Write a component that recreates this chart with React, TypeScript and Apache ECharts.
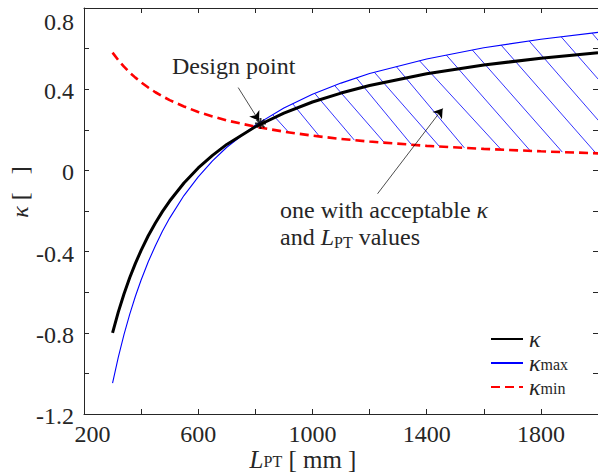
import React, { useEffect, useRef } from 'react';
import * as echarts from 'echarts';

// ---- data ----
const L = [300, 320, 340, 360, 380, 400, 425, 450, 475, 500, 550, 600, 650, 700, 800, 900, 1000, 1100, 1200, 1400, 1600, 1800, 2000];
const kappa = [-0.800, -0.698, -0.609, -0.529, -0.458, -0.394, -0.322, -0.259, -0.202, -0.151, -0.062, 0.012, 0.074, 0.128, 0.215, 0.282, 0.337, 0.381, 0.418, 0.476, 0.519, 0.553, 0.580];
const kappaMax = [-1.048, -0.921, -0.809, -0.709, -0.620, -0.540, -0.450, -0.371, -0.299, -0.235, -0.124, -0.032, 0.047, 0.114, 0.223, 0.307, 0.375, 0.430, 0.477, 0.549, 0.604, 0.646, 0.680];
const kappaMin = [0.580, 0.543, 0.511, 0.482, 0.457, 0.434, 0.408, 0.385, 0.365, 0.346, 0.315, 0.288, 0.266, 0.246, 0.215, 0.191, 0.171, 0.155, 0.142, 0.121, 0.106, 0.094, 0.084];

// hatch segments: start L on kappa_max, end L on kappa_min
const hatchTopL = [861, 931, 1008, 1078, 1154, 1217, 1294, 1375, 1469, 1560, 1661, 1759, 1871, 1979];
const hatchBottomL = [917, 1025, 1147, 1252, 1347, 1445, 1532, 1661, 1763, 1875, 1993, 2105, 2235, 2347];

const designPoint = [818, 0.231];
const designArrow = [[740, 0.408], [813, 0.244]];
const regionArrow = [[1228, -0.115], [1456, 0.305]];

const xTickLabels = [200, 600, 1000, 1400, 1800];
const yTickValues = [-1.2, -0.8, -0.4, 0, 0.4, 0.8];
const yTickLabels = ['-1.2', '-0.8', '-0.4', '0', '0.4', '0.8'];

const seriesNames = ['κ', 'κmax', 'κmin'];
const legendRich: Record<string, string> = {
  'κ': '{k|κ}',
  'κmax': '{k|κ}{s|max}',
  'κmin': '{k|κ}{s|min}',
};

const FONT = 'Liberation Serif';
const TXT = '#262626';
const NB = '\u00a0';

function interp(xs: number[], ys: number[], x: number) {
  let i = 0;
  while (i < xs.length - 2 && x > xs[i + 1]) i++;
  const t = (x - xs[i]) / (xs[i + 1] - xs[i]);
  return ys[i] + t * (ys[i + 1] - ys[i]);
}

const asterisk = 'path://M-1 0L1 0M0 -1L0 1M-0.7 -0.7L0.7 0.7M-0.7 0.7L0.7 -0.7';

export default function App() {
  const ref = useRef<HTMLDivElement>(null);
  useEffect(() => {
    if (!ref.current) return;
    const chart = echarts.init(ref.current, null, { renderer: 'svg' });
    const axisLine = { color: TXT, width: 1 };
    const option: any = {
      animation: false,
      textStyle: { fontFamily: FONT },
      grid: { left: 84, right: 0, top: 8, bottom: 58, containLabel: false, outerBoundsMode: 'none' },
      xAxis: [
        {
          type: 'value', min: 200, max: 2000, interval: 200, position: 'bottom',
          axisLine: { show: true, onZero: false, lineStyle: axisLine },
          axisTick: { show: true, inside: true, length: 5, lineStyle: axisLine },
          splitLine: { show: false },
          axisLabel: {
            margin: 11, color: TXT, fontFamily: FONT, fontSize: 24, lineHeight: 18,
            formatter: (v: number) => {
              if (!xTickLabels.includes(Math.round(v))) return '';
              return v === xTickLabels[0] ? `{first|${v}}` : String(Math.round(v));
            },
            rich: { first: { padding: [0, 0, 0, 17], fontFamily: FONT, fontSize: 24, lineHeight: 18, color: TXT } },
          },
        },
        {
          type: 'value', min: 200, max: 2000, interval: 200, position: 'top',
          axisLine: { show: true, onZero: false, lineStyle: axisLine },
          axisTick: { show: true, inside: true, length: 5, lineStyle: axisLine },
          axisLabel: { show: false }, splitLine: { show: false },
        },
      ],
      yAxis: [
        {
          type: 'value', min: -1.2, max: 0.8, interval: 0.2, position: 'left',
          axisLine: { show: true, onZero: false, lineStyle: axisLine },
          axisTick: { show: true, inside: true, length: 5, lineStyle: axisLine },
          splitLine: { show: false },
          axisLabel: {
            margin: 10, color: TXT, fontFamily: FONT, fontSize: 24,
            formatter: (v: number) => {
              const idx = yTickValues.findIndex((t) => Math.abs(t - v) < 1e-6);
              if (idx < 0) return '';
              if (idx === yTickValues.length - 1) return `{top|${yTickLabels[idx]}}`;
              return `{lab|${yTickLabels[idx]}}`;
            },
            rich: {
              top: { padding: [28, 0, 0, 0], fontFamily: FONT, fontSize: 24, lineHeight: 20, color: TXT },
              lab: { padding: [4, 0, 0, 0], fontFamily: FONT, fontSize: 24, lineHeight: 20, color: TXT },
            },
          },
        },
        {
          type: 'value', min: -1.2, max: 0.8, interval: 0.2, position: 'right',
          axisLine: { show: true, onZero: false, lineStyle: axisLine },
          axisTick: { show: true, inside: true, length: 5, lineStyle: axisLine },
          axisLabel: { show: false }, splitLine: { show: false },
        },
      ],
      legend: {
        data: seriesNames,
        orient: 'vertical', left: 490, top: 327, padding: 0,
        itemWidth: 32, itemHeight: 14, itemGap: 0,
        itemStyle: { opacity: 0 },
        formatter: (name: string) => legendRich[name] || name,
        textStyle: {
          fontFamily: FONT, fontSize: 24, color: TXT, lineHeight: 18,
          rich: {
            k: { fontFamily: FONT, fontSize: 24, fontStyle: 'italic', color: TXT, lineHeight: 18, padding: [0, 0, 0, 1] },
            s: { fontFamily: FONT, fontSize: 16, color: TXT, lineHeight: 13, verticalAlign: 'bottom' },
          },
        },
      },
      graphic: [
        {
          type: 'text', left: 172, top: 54, silent: true,
          style: { text: 'Design point', font: `24px ${FONT}`, fill: TXT },
        },
        {
          type: 'text', left: 280, top: 198, silent: true,
          style: {
            text: '{n|one with acceptable }{i|κ}\n{n|and }{i|L}{s|PT}{n| values}',
            fill: TXT,
            rich: {
              n: { fontFamily: FONT, fontSize: 24, lineHeight: 27, fill: TXT },
              i: { fontFamily: FONT, fontSize: 24, fontStyle: 'italic', lineHeight: 27, fill: TXT },
              s: { fontFamily: FONT, fontSize: 16, lineHeight: 18, verticalAlign: 'bottom', fill: TXT },
            },
          },
        },
        {
          type: 'text', x: 20, y: 192, rotation: Math.PI / 2, silent: true,
          style: {
            text: `{i|κ}{n|${NB}[${NB}${NB}${NB}]}`, align: 'center', verticalAlign: 'middle', fill: TXT,
            rich: {
              i: { fontFamily: FONT, fontSize: 24, fontStyle: 'italic', fill: TXT },
              n: { fontFamily: FONT, fontSize: 24, fill: TXT },
            },
          },
        },
        {
          type: 'text', x: 303, y: 459, silent: true,
          style: {
            text: '{i|L}{s|PT}{n| [ mm ]}', align: 'center', verticalAlign: 'middle', fill: TXT,
            rich: {
              i: { fontFamily: FONT, fontSize: 25, fontStyle: 'italic', lineHeight: 20, fill: TXT },
              s: { fontFamily: FONT, fontSize: 16, lineHeight: 14, verticalAlign: 'bottom', fill: TXT },
              n: { fontFamily: FONT, fontSize: 25, lineHeight: 20, fill: TXT },
            },
          },
        },
      ],
      series: [
        {
          type: 'custom', name: 'hatch', coordinateSystem: 'cartesian2d', clip: true, silent: true,
          data: hatchTopL.map((t, i) => [t, hatchBottomL[i]]),
          encode: { x: [0, 1] },
          renderItem: (params: any, api: any) => {
            const t = api.value(0);
            const b = api.value(1);
            const p1 = api.coord([t, interp(L, kappaMax, t)]);
            const p2 = api.coord([b, interp(L, kappaMin, b)]);
            return {
              type: 'line',
              shape: { x1: p1[0], y1: p1[1], x2: p2[0], y2: p2[1] },
              style: { stroke: '#0000ff', lineWidth: 0.8 },
            };
          },
          z: 1,
        },
        {
          type: 'line', name: 'κmax', data: L.map((x, i) => [x, kappaMax[i]]),
          symbol: 'none', lineStyle: { color: '#0000ff', width: 1.1 }, itemStyle: { color: '#0000ff' }, z: 2,
        },
        {
          type: 'line', name: 'κmin', data: L.map((x, i) => [x, kappaMin[i]]),
          symbol: 'none', lineStyle: { color: '#ff0000', width: 2.6, type: [9, 5] }, itemStyle: { color: '#ff0000' }, z: 3,
        },
        {
          type: 'line', name: 'κ', data: L.map((x, i) => [x, kappa[i]]),
          symbol: 'none', lineStyle: { color: '#000000', width: 3 }, itemStyle: { color: '#000000' }, z: 4,
        },
        {
          type: 'scatter', name: 'design', data: [designPoint], symbol: asterisk, symbolSize: 11,
          itemStyle: { color: 'transparent', borderColor: '#000', borderWidth: 2 }, z: 5, silent: true,
          markLine: {
            silent: true, symbol: ['none', 'arrow'], symbolSize: 9,
            label: { show: false },
            lineStyle: { color: '#000', width: 0.7, type: 'solid' },
            emphasis: { disabled: true },
            data: [
              [{ coord: designArrow[0] }, { coord: designArrow[1] }],
              [{ coord: regionArrow[0] }, { coord: regionArrow[1] }],
            ],
          },
        },
      ],
    };
    chart.setOption(option);
    return () => chart.dispose();
  }, []);
  return <div ref={ref} style={{ position: 'fixed', left: 0, top: 0, width: 598, height: 472, background: '#fff' }} />;
}
